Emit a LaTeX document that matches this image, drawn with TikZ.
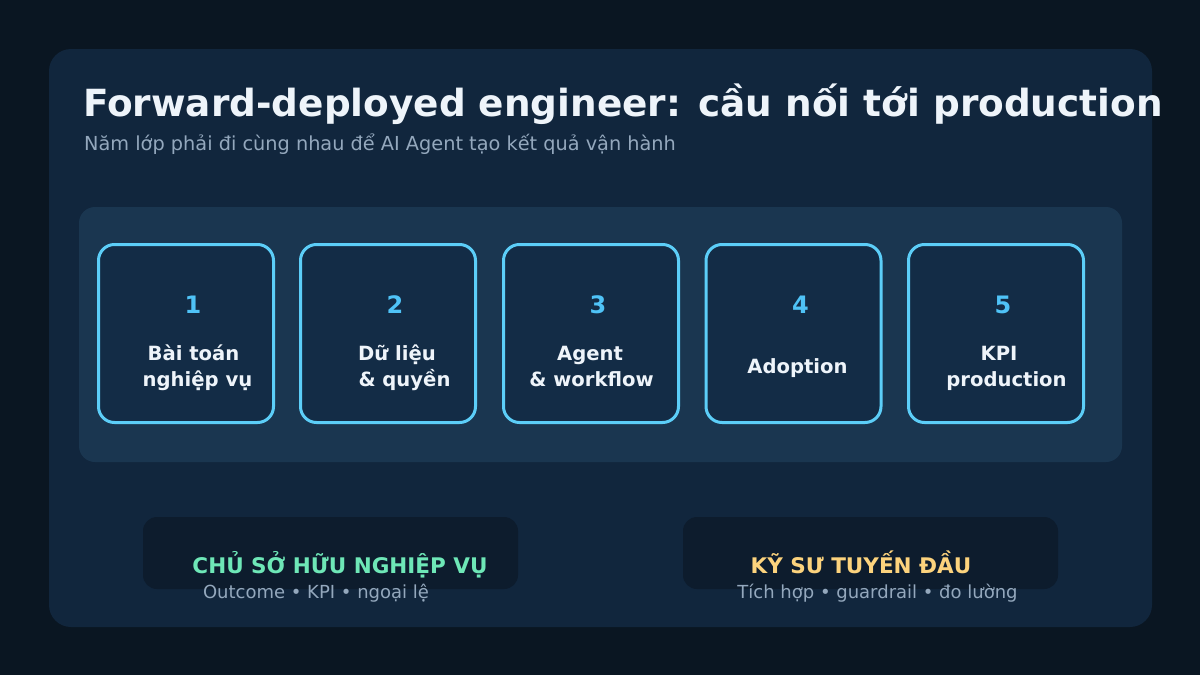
\documentclass[tikz,border=0pt]{standalone}
\usepackage{fontspec}
\setmainfont{DejaVu Sans}
\usepackage{xcolor}
\usetikzlibrary{positioning}
\definecolor{pagebg}{HTML}{0A1622}
\definecolor{cardbg}{HTML}{11263D}
\definecolor{panelbg}{HTML}{1A3650}
\definecolor{stepfill}{HTML}{132C46}
\definecolor{stepline}{HTML}{5CCEF8}
\definecolor{numblue}{HTML}{4FC3F7}
\definecolor{textwhite}{HTML}{EEF4FA}
\definecolor{subgray}{HTML}{94A8BD}
\definecolor{tagbg}{HTML}{0D1C2D}
\definecolor{ownergreen}{HTML}{6EE7B7}
\definecolor{fdegold}{HTML}{FCD37D}

\begin{document}
\begin{tikzpicture}[
    x=1pt, y=-1pt,
    card/.style={fill=cardbg, rounded corners=22pt, inner sep=0pt},
    panel/.style={fill=panelbg, rounded corners=16pt, inner sep=0pt},
    stepbox/.style={draw=stepline, line width=3pt, fill=stepfill,
                    rounded corners=16pt, minimum width=175pt,
                    minimum height=178pt, inner sep=0pt},
    numtext/.style={anchor=base, text=numblue,
                    font=\fontsize{24}{28}\selectfont\bfseries},
    steptext/.style={anchor=base, text=textwhite,
                     font=\fontsize{19.6}{24}\selectfont\bfseries},
    tagbox/.style={fill=tagbg, rounded corners=14pt, inner sep=0pt,
                   minimum width=375pt, minimum height=72pt},
    tagtitle/.style={anchor=base, font=\fontsize{21.5}{26}\selectfont\bfseries},
    tagsub/.style={anchor=base, text=subgray,
                   font=\fontsize{18}{22}\selectfont},
]

% page and card
\fill[pagebg] (0,0) rectangle (1200,675);
\useasboundingbox (0,0) rectangle (1200,675);
\node[card, minimum width=1103pt, minimum height=578pt] (maincard)
    at (600.5,338) {};

% heading
\node[anchor=base west, inner sep=0pt, text=textwhite,
      font=\fontsize{37.4}{44}\selectfont\bfseries] (title)
    at (83,116) {Forward-deployed engineer: cầu nối tới production};
\node[anchor=base west, inner sep=0pt, text=subgray,
      font=\fontsize{19.3}{23}\selectfont] (subtitle)
    at (84,150) {Năm lớp phải đi cùng nhau để AI Agent tạo kết quả vận hành};

% five layers
\node[panel, minimum width=1043pt, minimum height=255pt] (layers)
    at (600.5,334.5) {};
\foreach \i/\cx in {1/186,2/388,3/591,4/793.5,5/996} {
  \node[stepbox] (step\i) at (\cx,333.5) {};
  \node[numtext] (num\i) at (\cx+7,313) {\i};
}

\node[steptext] (lab1a) at (193.5,360) {Bài toán};
\node[steptext] (lab1b) at (197.5,386) {nghiệp vụ};
\node[steptext] (lab2a) at (397,360) {Dữ liệu};
\node[steptext] (lab2b) at (404.5,386) {\& quyền};
\node[steptext] (lab3a) at (590,360) {Agent};
\node[steptext] (lab3b) at (591.5,386) {\& workflow};
\node[steptext] (lab4a) at (797.5,373) {Adoption};
\node[steptext] (lab5a) at (999,360) {KPI};
\node[steptext] (lab5b) at (1006.5,386) {production};

% two roles
\node[tagbox] (owner) at (330.5,553) {};
\node[tagtitle, text=ownergreen] (ownertitle) at (340,573)
    {CHỦ SỞ HỮU NGHIỆP VỤ};
\node[tagsub] (ownersub) at (316,598) {Outcome • KPI • ngoại lệ};

\node[tagbox] (fde) at (870.5,553) {};
\node[tagtitle, text=fdegold] (fdetitle) at (861,573)
    {KỸ SƯ TUYẾN ĐẦU};
\node[tagsub] (fdesub) at (877.5,598) {Tích hợp • guardrail • đo lường};

\end{tikzpicture}
\end{document}
